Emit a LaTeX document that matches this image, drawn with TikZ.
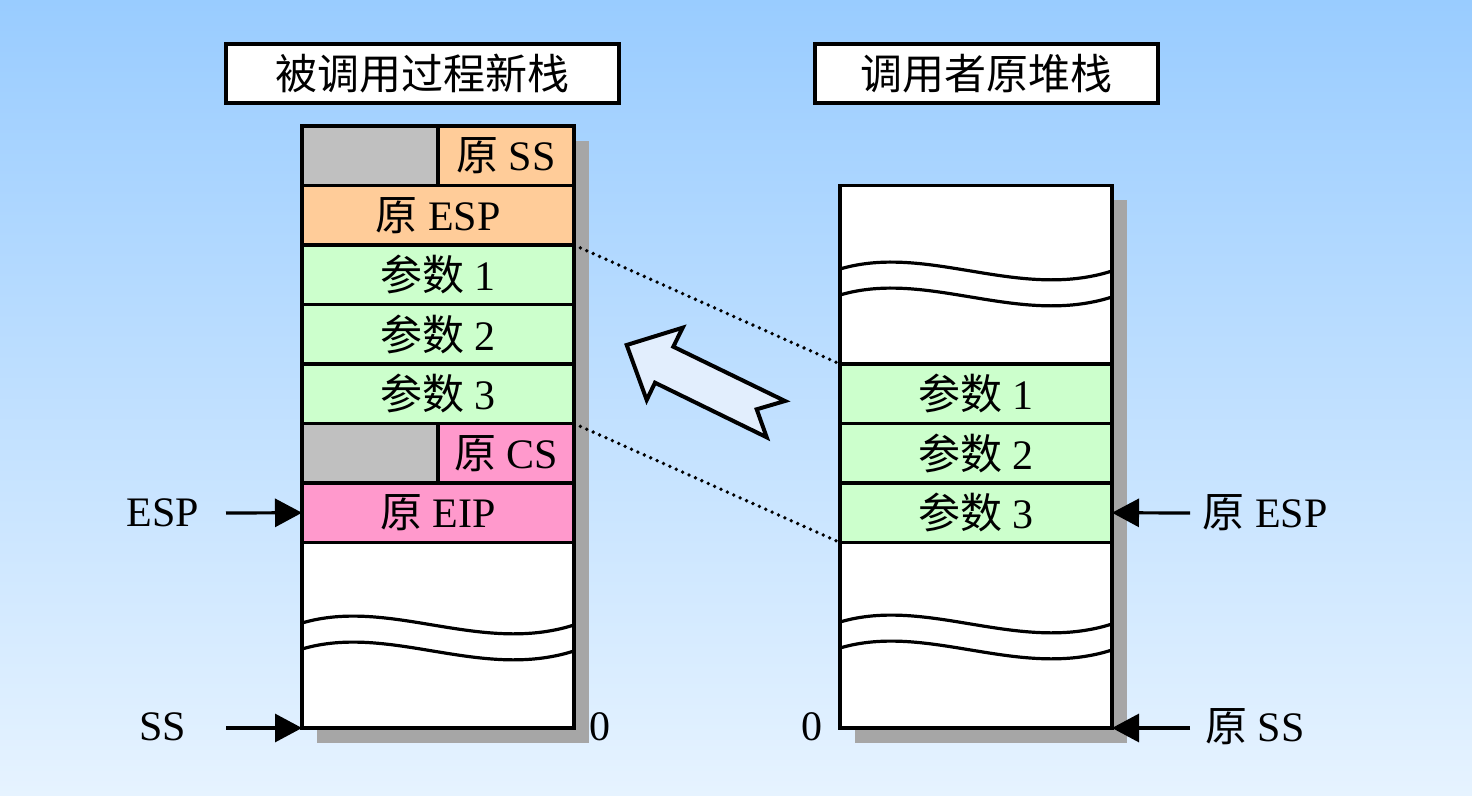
\documentclass[tikz,border=0pt]{standalone}
\usepackage{fontspec}
\setmainfont{Liberation Serif}
\newfontfamily\cjk{Noto Sans CJK SC}
\usetikzlibrary{arrows.meta}

\definecolor{bgtop}{RGB}{153,204,255}
\definecolor{bgbot}{RGB}{230,243,255}
\definecolor{cellgray}{RGB}{192,192,192}
\definecolor{cellorange}{RGB}{255,204,153}
\definecolor{cellgreen}{RGB}{204,255,204}
\definecolor{cellpink}{RGB}{255,153,204}
\definecolor{arrowfill}{RGB}{226,238,253}

\newcommand{\zh}[1]{{\cjk #1}}
% two wavy lines marking a cut in a stack
\newcommand{\stackbreak}[2]{%
  \foreach \dy in {0,26}
    \draw[wave, shift={(#1,#2+\dy)}] (0,0) .. controls (88,-26) and (178,32) .. (272,2);
}

\tikzset{
  cell/.style={draw, line width=1.9pt, inner sep=0pt, outer sep=0pt,
    minimum width=136pt, minimum height=29.75pt},
  half/.style={cell, minimum width=68pt},
  titlebox/.style={draw, line width=1.9pt, fill=white, inner sep=0pt,
    minimum height=29.5pt},
  shadowbox/.style={fill=black!35},
  wave/.style={line width=1.6pt},
  ptr/.style={line width=1.6pt, -{Triangle[length=13.5pt,width=14pt]}},
  link/.style={line width=1.9pt, line cap=round, dash pattern=on 0pt off 3.5pt}
}

\begin{document}
\begin{tikzpicture}[x=0.5pt, y=-0.5pt, font=\fontsize{21pt}{25pt}\selectfont]
  \def \rowh {59.5}
  \useasboundingbox (0,0) rectangle (1472,796);
  \fill[top color=bgtop, bottom color=bgbot] (0,0) rectangle (1472,796);

  % titles
  \node[titlebox, minimum width=196.5pt] (titleL) at (422.5,73.5) {\zh{被调用过程新栈}};
  \node[titlebox, minimum width=171.5pt] (titleR) at (986.5,73.5) {\zh{调用者原堆栈}};

  % shadows
  \fill[shadowbox] (317,141) rectangle (589,743);
  \fill[shadowbox] (855,200.5) rectangle (1127,743);

  % new stack of the called procedure
  \node[half, fill=cellgray] (ssgap) at (370,155.75) {};
  \node[half, fill=cellorange] (oldss) at (506,155.75) {\zh{原} SS};
  \node[cell, fill=cellorange] (oldesp) at (438,215.25) {\zh{原} ESP};
  \foreach \i in {1,2,3}
    \node[cell, fill=cellgreen] (argL\i) at (438,{245+\rowh/2+(\i-1)*\rowh}) {\zh{参数} \i};
  \node[half, fill=cellgray] (csgap) at (370,453.25) {};
  \node[half, fill=cellpink] (oldcs) at (506,453.25) {\zh{原} CS};
  \node[cell, fill=cellpink] (oldeip) at (438,512.75) {\zh{原} EIP};
  \node[cell, fill=white, minimum height=92.75pt] (freeL) at (438,635.25) {};
  \stackbreak{302}{623}

  % old stack of the caller
  \node[cell, fill=white, minimum height=89.25pt] (usedR) at (976,274.75) {};
  \foreach \i in {1,2,3}
    \node[cell, fill=cellgreen] (argR\i) at (976,{364+\rowh/2+(\i-1)*\rowh}) {\zh{参数} \i};
  \node[cell, fill=white, minimum height=92.75pt] (freeR) at (976,635.25) {};
  \stackbreak{840}{269}
  \stackbreak{840}{622}

  % pointers
  \node (espL) at (163,513) {ESP};
  \node (ssL) at (163,727) {SS};
  \node (zeroL) at (600,727) {0};
  \node (zeroR) at (812,727) {0};
  \node (espR) at (1265,513) {\zh{原} ESP};
  \node (ssR) at (1255,727) {\zh{原} SS};
  \coordinate (espTail) at (226,513);
  \coordinate (ssTail) at (226,728);
  \coordinate (oespTail) at (1190,513);
  \coordinate (ossTail) at (1190,728);
  \draw[ptr] (espTail) -- (oldeip.west);
  \draw[ptr] (ssTail) -- (freeL.south west);
  \draw[ptr] (oespTail) -- (argR3.east);
  \draw[ptr] (ossTail) -- (freeR.south east);

  % copied parameters
  \draw[link] (oldesp.south east) -- (usedR.south west);
  \draw[link] (argL3.south east) -- (argR3.south west);
  \draw[line width=2pt, fill=arrowfill, line join=miter]
    (626.7,345) -- (682.7,327.7) -- (673.3,346.7) -- (785,401) -- (756.7,409.3)
    -- (766.7,437.3) -- (655,382.7) -- (646.7,400) -- cycle;
\end{tikzpicture}
\end{document}
